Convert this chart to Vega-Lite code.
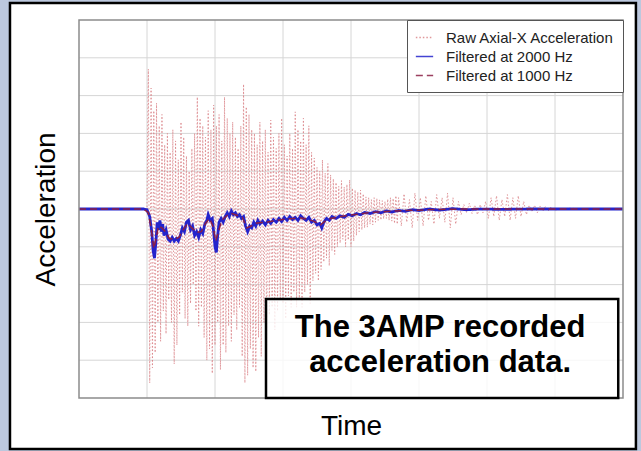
{
"$schema": "https://vega.github.io/schema/vega-lite/v6.json",
"width": 544, "height": 378,
"autosize": {"type": "none"},
"padding": {"left": 79, "top": 20, "right": 18, "bottom": 53},
"background": "#bcc8de",
"config": {
 "view": {"stroke": null},
 "legend": {"orient": "top-right", "offset": 0, "padding": 8, "strokeColor": "#555555", "fillColor": "#ffffff", "labelFont": "Liberation Sans", "labelFontSize": 15, "labelColor": "#222222", "labelLimit": 300, "symbolSize": 300, "symbolStrokeWidth": 1.5, "labelOffset": 12, "rowPadding": 1}
},
"datasets": {
 "raw": [{"t":0,"v":0},{"t":0.98,"v":0},{"t":1.0,"v":0},{"t":1.02,"v":3.7},{"t":1.04,"v":-4.6},{"t":1.06,"v":3.2},{"t":1.08,"v":-4.2},{"t":1.1,"v":2.6},{"t":1.12,"v":-3.8},{"t":1.14,"v":2.8},{"t":1.16,"v":-3.0},{"t":1.18,"v":2.2},{"t":1.2,"v":-3.5},{"t":1.22,"v":2.5},{"t":1.24,"v":-2.7},{"t":1.26,"v":1.7},{"t":1.28,"v":-3.3},{"t":1.3,"v":2.0},{"t":1.32,"v":-2.4},{"t":1.34,"v":1.5},{"t":1.36,"v":-3.0},{"t":1.38,"v":2.1},{"t":1.4,"v":-4.1},{"t":1.42,"v":1.8},{"t":1.44,"v":-3.6},{"t":1.46,"v":1.3},{"t":1.48,"v":-2.8},{"t":1.5,"v":2.3},{"t":1.52,"v":-2.2},{"t":1.54,"v":1.9},{"t":1.56,"v":-2.9},{"t":1.58,"v":1.4},{"t":1.6,"v":-3.1},{"t":1.62,"v":1.0},{"t":1.64,"v":-2.5},{"t":1.66,"v":1.6},{"t":1.68,"v":-2.0},{"t":1.7,"v":2.0},{"t":1.72,"v":-2.7},{"t":1.74,"v":2.96},{"t":1.76,"v":-3.1},{"t":1.78,"v":2.4},{"t":1.8,"v":-2.6},{"t":1.82,"v":2.2},{"t":1.84,"v":-3.4},{"t":1.86,"v":1.9},{"t":1.88,"v":-4.0},{"t":1.9,"v":2.6},{"t":1.92,"v":-3.7},{"t":1.94,"v":2.1},{"t":1.96,"v":-4.35},{"t":1.98,"v":2.75},{"t":2.0,"v":-3.6},{"t":2.02,"v":2.2},{"t":2.04,"v":-3.0},{"t":2.06,"v":2.5},{"t":2.08,"v":-4.25},{"t":2.1,"v":1.8},{"t":2.12,"v":-3.6},{"t":2.14,"v":2.96},{"t":2.16,"v":-3.8},{"t":2.18,"v":2.4},{"t":2.2,"v":-3.1},{"t":2.22,"v":2.0},{"t":2.24,"v":-3.5},{"t":2.26,"v":2.3},{"t":2.28,"v":-2.8},{"t":2.3,"v":1.9},{"t":2.32,"v":-3.2},{"t":2.34,"v":1.6},{"t":2.36,"v":-2.6},{"t":2.38,"v":2.2},{"t":2.4,"v":-3.9},{"t":2.42,"v":3.3},{"t":2.44,"v":-4.6},{"t":2.46,"v":2.7},{"t":2.48,"v":-4.4},{"t":2.5,"v":2.5},{"t":2.52,"v":-3.7},{"t":2.54,"v":2.1},{"t":2.56,"v":-4.2},{"t":2.58,"v":2.0},{"t":2.6,"v":-4.3},{"t":2.62,"v":1.7},{"t":2.64,"v":-3.4},{"t":2.66,"v":2.3},{"t":2.68,"v":-3.9},{"t":2.7,"v":1.8},{"t":2.72,"v":-3.0},{"t":2.74,"v":2.1},{"t":2.76,"v":-3.6},{"t":2.78,"v":1.5},{"t":2.8,"v":-2.8},{"t":2.82,"v":2.35},{"t":2.84,"v":-2.6},{"t":2.86,"v":1.9},{"t":2.88,"v":-3.2},{"t":2.9,"v":1.6},{"t":2.92,"v":-2.7},{"t":2.94,"v":2.0},{"t":2.96,"v":-2.4},{"t":2.98,"v":2.4},{"t":3.0,"v":-2.5},{"t":3.02,"v":1.7},{"t":3.04,"v":-2.9},{"t":3.06,"v":1.4},{"t":3.08,"v":-2.3},{"t":3.1,"v":2.0},{"t":3.12,"v":-2.6},{"t":3.14,"v":1.6},{"t":3.16,"v":-2.2},{"t":3.18,"v":2.57},{"t":3.2,"v":-2.6},{"t":3.22,"v":2.1},{"t":3.24,"v":-2.4},{"t":3.26,"v":1.8},{"t":3.28,"v":-2.6},{"t":3.3,"v":2.4},{"t":3.32,"v":-2.2},{"t":3.34,"v":1.7},{"t":3.36,"v":-2.0},{"t":3.38,"v":2.2},{"t":3.4,"v":-2.5},{"t":3.42,"v":1.5},{"t":3.44,"v":-1.9},{"t":3.46,"v":1.35},{"t":3.48,"v":-1.7},{"t":3.5,"v":1.1},{"t":3.52,"v":-1.9},{"t":3.54,"v":1.0},{"t":3.56,"v":-1.6},{"t":3.58,"v":1.3},{"t":3.6,"v":-1.4},{"t":3.62,"v":0.95},{"t":3.64,"v":-1.3},{"t":3.66,"v":1.2},{"t":3.68,"v":-1.5},{"t":3.7,"v":0.9},{"t":3.72,"v":-1.1},{"t":3.74,"v":0.8},{"t":3.76,"v":-1.2},{"t":3.78,"v":0.7},{"t":3.8,"v":-1.0},{"t":3.82,"v":0.6},{"t":3.84,"v":-0.9},{"t":3.86,"v":0.75},{"t":3.88,"v":-0.8},{"t":3.9,"v":0.58},{"t":3.92,"v":-1.0},{"t":3.94,"v":0.65},{"t":3.96,"v":-0.82},{"t":3.98,"v":0.77},{"t":4.0,"v":-1.0},{"t":4.02,"v":0.55},{"t":4.04,"v":-0.85},{"t":4.06,"v":0.5},{"t":4.08,"v":-0.7},{"t":4.1,"v":0.45},{"t":4.12,"v":-0.6},{"t":4.14,"v":0.5},{"t":4.16,"v":-0.55},{"t":4.18,"v":0.4},{"t":4.2,"v":-0.5},{"t":4.22,"v":0.32},{"t":4.24,"v":-0.48},{"t":4.26,"v":0.3},{"t":4.28,"v":-0.4},{"t":4.3,"v":0.25},{"t":4.32,"v":-0.42},{"t":4.34,"v":0.3},{"t":4.36,"v":-0.35},{"t":4.38,"v":0.28},{"t":4.4,"v":-0.3},{"t":4.42,"v":0.24},{"t":4.44,"v":-0.29},{"t":4.46,"v":0.22},{"t":4.48,"v":-0.26},{"t":4.5,"v":0.2},{"t":4.52,"v":-0.25},{"t":4.54,"v":0.26},{"t":4.56,"v":-0.3},{"t":4.58,"v":0.3},{"t":4.6,"v":-0.32},{"t":4.62,"v":0.28},{"t":4.64,"v":-0.38},{"t":4.66,"v":0.35},{"t":4.68,"v":-0.4},{"t":4.7,"v":0.3},{"t":4.74,"v":-0.45},{"t":4.78,"v":0.4},{"t":4.82,"v":-0.35},{"t":4.86,"v":0.25},{"t":4.9,"v":-0.5},{"t":4.94,"v":0.42},{"t":4.98,"v":-0.3},{"t":5.02,"v":0.3},{"t":5.06,"v":-0.45},{"t":5.1,"v":0.35},{"t":5.14,"v":-0.3},{"t":5.18,"v":0.2},{"t":5.22,"v":-0.4},{"t":5.26,"v":0.38},{"t":5.3,"v":-0.25},{"t":5.34,"v":0.3},{"t":5.38,"v":-0.35},{"t":5.42,"v":0.42},{"t":5.46,"v":-0.5},{"t":5.5,"v":0.3},{"t":5.54,"v":-0.4},{"t":5.58,"v":0.2},{"t":5.62,"v":-0.15},{"t":5.66,"v":0.12},{"t":5.7,"v":-0.1},{"t":5.74,"v":0.15},{"t":5.78,"v":-0.12},{"t":5.82,"v":0.1},{"t":5.86,"v":-0.15},{"t":5.9,"v":0.12},{"t":5.94,"v":-0.1},{"t":5.98,"v":0.2},{"t":6.02,"v":-0.25},{"t":6.06,"v":0.3},{"t":6.1,"v":-0.2},{"t":6.14,"v":0.35},{"t":6.18,"v":-0.3},{"t":6.22,"v":0.25},{"t":6.26,"v":-0.2},{"t":6.3,"v":0.38},{"t":6.34,"v":-0.3},{"t":6.38,"v":0.3},{"t":6.42,"v":-0.25},{"t":6.46,"v":0.35},{"t":6.5,"v":-0.2},{"t":6.54,"v":0.2},{"t":6.58,"v":-0.15},{"t":6.62,"v":0.1},{"t":6.66,"v":-0.08},{"t":6.7,"v":0.1},{"t":6.74,"v":-0.1},{"t":6.78,"v":0.08},{"t":6.82,"v":-0.06},{"t":6.86,"v":0.07},{"t":6.9,"v":-0.05},{"t":6.94,"v":0.05},{"t":6.98,"v":-0.03},{"t":7.2,"v":0.02},{"t":7.5,"v":0},{"t":8.0,"v":0}],
 "f2": [{"t":0,"v":0},{"t":0.95,"v":0},{"t":1.0,"v":-0.02},{"t":1.04,"v":-0.2},{"t":1.07,"v":-0.6},{"t":1.09,"v":-1.1},{"t":1.11,"v":-1.3},{"t":1.13,"v":-0.9},{"t":1.15,"v":-0.35},{"t":1.17,"v":-0.55},{"t":1.19,"v":-0.3},{"t":1.21,"v":-0.6},{"t":1.23,"v":-0.4},{"t":1.25,"v":-0.7},{"t":1.28,"v":-0.55},{"t":1.31,"v":-0.8},{"t":1.34,"v":-0.85},{"t":1.37,"v":-0.75},{"t":1.4,"v":-0.85},{"t":1.43,"v":-0.78},{"t":1.46,"v":-0.85},{"t":1.49,"v":-0.7},{"t":1.52,"v":-0.5},{"t":1.55,"v":-0.6},{"t":1.58,"v":-0.35},{"t":1.61,"v":-0.3},{"t":1.64,"v":-0.55},{"t":1.67,"v":-0.45},{"t":1.7,"v":-0.7},{"t":1.73,"v":-0.6},{"t":1.76,"v":-0.75},{"t":1.79,"v":-0.55},{"t":1.82,"v":-0.65},{"t":1.85,"v":-0.4},{"t":1.88,"v":-0.3},{"t":1.9,"v":-0.15},{"t":1.93,"v":-0.3},{"t":1.96,"v":-0.25},{"t":1.98,"v":-0.6},{"t":2.0,"v":-1.0},{"t":2.02,"v":-1.15},{"t":2.04,"v":-0.7},{"t":2.06,"v":-0.35},{"t":2.09,"v":-0.25},{"t":2.12,"v":-0.35},{"t":2.15,"v":-0.2},{"t":2.18,"v":-0.1},{"t":2.21,"v":-0.2},{"t":2.24,"v":-0.05},{"t":2.27,"v":-0.15},{"t":2.3,"v":-0.1},{"t":2.33,"v":-0.2},{"t":2.36,"v":-0.15},{"t":2.39,"v":-0.25},{"t":2.42,"v":-0.2},{"t":2.45,"v":-0.45},{"t":2.48,"v":-0.6},{"t":2.51,"v":-0.45},{"t":2.54,"v":-0.5},{"t":2.57,"v":-0.35},{"t":2.6,"v":-0.45},{"t":2.63,"v":-0.3},{"t":2.66,"v":-0.4},{"t":2.7,"v":-0.32},{"t":2.74,"v":-0.42},{"t":2.78,"v":-0.3},{"t":2.82,"v":-0.38},{"t":2.86,"v":-0.28},{"t":2.9,"v":-0.35},{"t":2.94,"v":-0.25},{"t":2.98,"v":-0.33},{"t":3.02,"v":-0.22},{"t":3.06,"v":-0.3},{"t":3.1,"v":-0.2},{"t":3.14,"v":-0.28},{"t":3.18,"v":-0.22},{"t":3.22,"v":-0.3},{"t":3.26,"v":-0.18},{"t":3.3,"v":-0.25},{"t":3.34,"v":-0.3},{"t":3.38,"v":-0.22},{"t":3.42,"v":-0.35},{"t":3.46,"v":-0.3},{"t":3.5,"v":-0.42},{"t":3.54,"v":-0.38},{"t":3.57,"v":-0.5},{"t":3.6,"v":-0.35},{"t":3.64,"v":-0.25},{"t":3.68,"v":-0.3},{"t":3.72,"v":-0.2},{"t":3.78,"v":-0.25},{"t":3.84,"v":-0.18},{"t":3.9,"v":-0.22},{"t":3.96,"v":-0.14},{"t":4.02,"v":-0.18},{"t":4.08,"v":-0.12},{"t":4.14,"v":-0.15},{"t":4.2,"v":-0.09},{"t":4.28,"v":-0.12},{"t":4.36,"v":-0.07},{"t":4.44,"v":-0.1},{"t":4.52,"v":-0.05},{"t":4.6,"v":-0.08},{"t":4.7,"v":-0.04},{"t":4.8,"v":-0.06},{"t":4.9,"v":-0.02},{"t":5.0,"v":-0.04},{"t":5.15,"v":0},{"t":5.3,"v":-0.03},{"t":5.5,"v":0.01},{"t":5.7,"v":-0.02},{"t":5.9,"v":0},{"t":6.2,"v":-0.01},{"t":6.6,"v":0},{"t":7.0,"v":0},{"t":7.5,"v":0},{"t":8.0,"v":0}],
 "f1": [{"t":0,"v":0},{"t":0.95,"v":0},{"t":1.02,"v":-0.1},{"t":1.06,"v":-0.5},{"t":1.1,"v":-1.05},{"t":1.13,"v":-0.8},{"t":1.17,"v":-0.45},{"t":1.22,"v":-0.5},{"t":1.27,"v":-0.6},{"t":1.33,"v":-0.78},{"t":1.4,"v":-0.8},{"t":1.47,"v":-0.75},{"t":1.53,"v":-0.55},{"t":1.6,"v":-0.38},{"t":1.66,"v":-0.5},{"t":1.73,"v":-0.62},{"t":1.8,"v":-0.6},{"t":1.86,"v":-0.38},{"t":1.92,"v":-0.25},{"t":1.97,"v":-0.45},{"t":2.01,"v":-0.85},{"t":2.05,"v":-0.6},{"t":2.1,"v":-0.3},{"t":2.17,"v":-0.18},{"t":2.25,"v":-0.12},{"t":2.33,"v":-0.17},{"t":2.4,"v":-0.22},{"t":2.47,"v":-0.5},{"t":2.53,"v":-0.45},{"t":2.6,"v":-0.38},{"t":2.68,"v":-0.36},{"t":2.76,"v":-0.35},{"t":2.85,"v":-0.32},{"t":2.95,"v":-0.29},{"t":3.05,"v":-0.26},{"t":3.15,"v":-0.25},{"t":3.25,"v":-0.23},{"t":3.35,"v":-0.27},{"t":3.45,"v":-0.32},{"t":3.55,"v":-0.42},{"t":3.62,"v":-0.32},{"t":3.7,"v":-0.25},{"t":3.8,"v":-0.22},{"t":3.95,"v":-0.17},{"t":4.1,"v":-0.14},{"t":4.25,"v":-0.1},{"t":4.4,"v":-0.08},{"t":4.6,"v":-0.06},{"t":4.8,"v":-0.04},{"t":5.0,"v":-0.03},{"t":5.3,"v":-0.01},{"t":5.7,"v":0},{"t":6.5,"v":0},{"t":8.0,"v":0}],
 "grid": [{"t":1,"t2":1,"v":-5,"v2":5},{"t":2,"t2":2,"v":-5,"v2":5},{"t":3,"t2":3,"v":-5,"v2":5},{"t":4,"t2":4,"v":-5,"v2":5},{"t":5,"t2":5,"v":-5,"v2":5},{"t":6,"t2":6,"v":-5,"v2":5},{"t":7,"t2":7,"v":-5,"v2":5},{"t":0,"t2":8,"v":-4,"v2":-4},{"t":0,"t2":8,"v":-3,"v2":-3},{"t":0,"t2":8,"v":-2,"v2":-2},{"t":0,"t2":8,"v":-1,"v2":-1},{"t":0,"t2":8,"v":0,"v2":0},{"t":0,"t2":8,"v":1,"v2":1},{"t":0,"t2":8,"v":2,"v2":2},{"t":0,"t2":8,"v":3,"v2":3},{"t":0,"t2":8,"v":4,"v2":4}]
},
"encoding": {
 "x": {"field": "t", "type": "quantitative", "scale": {"domain": [0, 8], "nice": false, "zero": false},
  "axis": {"title": "Time", "zindex": 1, "labels": false, "ticks": false, "domain": false, "grid": false, "titleFontSize": 28, "titleFont": "Liberation Sans", "titleFontWeight": "normal", "titleColor": "#000000", "titlePadding": 14}},
 "y": {"field": "v", "type": "quantitative", "scale": {"domain": [-5, 5], "nice": false, "zero": false},
  "axis": {"title": "Acceleration", "zindex": 1, "labels": false, "ticks": false, "domain": false, "grid": false, "titleFontSize": 28, "titleFont": "Liberation Sans", "titleFontWeight": "normal", "titleColor": "#000000", "titlePadding": 19}}
},
"layer": [
 {"data": {"values": [{"t": -1.015, "t2": 8.19, "v": 5.45, "v2": -6.35}]},
  "mark": {"type": "rect", "fill": "#ffffff", "stroke": "#000000", "strokeWidth": 2.5},
  "encoding": {"x2": {"field": "t2"}, "y2": {"field": "v2"}}},
 {"data": {"name": "grid"},
  "mark": {"type": "rule", "color": "#d6d6d6", "strokeWidth": 1},
  "encoding": {"x2": {"field": "t2"}, "y2": {"field": "v2"}}},
 {"data": {"name": "raw"},
  "mark": {"type": "line", "strokeWidth": 1, "opacity": 0.85},
  "encoding": {
   "color": {"datum": "Raw Axial-X Acceleration", "type": "nominal", "scale": {"domain": ["Raw Axial-X Acceleration", "Filtered at 2000 Hz", "Filtered at 1000 Hz"], "range": ["#db8589", "#2424cc", "#8a1f45"]}, "legend": {"title": null}},
   "strokeDash": {"datum": "Raw Axial-X Acceleration", "type": "nominal", "scale": {"domain": ["Raw Axial-X Acceleration", "Filtered at 2000 Hz", "Filtered at 1000 Hz"], "range": [[1.5, 2], [1, 0], [7, 4]]}, "legend": {"title": null}}}},
 {"data": {"name": "f2"},
  "mark": {"type": "line", "strokeWidth": 2.8},
  "encoding": {
   "color": {"datum": "Filtered at 2000 Hz", "type": "nominal"},
   "strokeDash": {"datum": "Filtered at 2000 Hz", "type": "nominal"}}},
 {"data": {"name": "f1"},
  "mark": {"type": "line", "strokeWidth": 1.5},
  "encoding": {
   "color": {"datum": "Filtered at 1000 Hz", "type": "nominal"},
   "strokeDash": {"datum": "Filtered at 1000 Hz", "type": "nominal"}}},
 {"data": {"values": [{"t": 0, "t2": 8, "v": -5, "v2": 5}]},
  "mark": {"type": "rect", "filled": false, "stroke": "#8c8c8c", "strokeWidth": 1.5},
  "encoding": {"x2": {"field": "t2"}, "y2": {"field": "v2"}}},
 {"data": {"values": [{"t": 2.75, "t2": 7.93, "v": -2.38, "v2": -5}]},
  "mark": {"type": "rect", "fill": "#ffffff", "fillOpacity": 0.8, "stroke": "#000000", "strokeWidth": 2.5},
  "encoding": {"x2": {"field": "t2"}, "y2": {"field": "v2"}}},
 {"data": {"values": [{"t": 5.31, "v": -3.386, "label": "The 3AMP recorded"}, {"t": 5.31, "v": -4.31, "label": "acceleration data."}]},
  "mark": {"type": "text", "font": "Liberation Sans", "fontSize": 31, "fontWeight": "bold", "color": "#000000", "align": "center", "baseline": "alphabetic"},
  "encoding": {"text": {"field": "label"}}}
]
}
